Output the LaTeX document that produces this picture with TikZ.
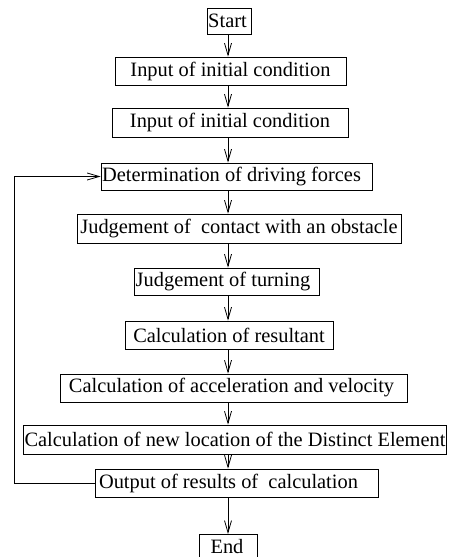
\documentclass[tikz,border=0pt]{standalone}
\usepackage{fontspec}
\setmainfont{Liberation Serif}
\usetikzlibrary{arrows.meta}
\begin{document}
\begin{tikzpicture}[x=1pt,y=-1pt,
  box/.style={draw,line width=0.8pt,inner sep=1pt,font=\fontsize{20.4}{24}\selectfont},
  flow/.style={line width=0.8pt,-{Straight Barb[length=12pt,width=7pt,line width=0.8pt]}}]
\useasboundingbox (0,0) rectangle (452,557);
\node[box,minimum width=43pt,minimum height=26pt] (start) at (229.5,21) {Start\hspace*{4pt}};
\node[box,minimum width=231pt,minimum height=28pt] (b2) at (230.5,71) {Input of initial condition};
\node[box,minimum width=236pt,minimum height=29pt] (b3) at (230,122.5) {Input of initial condition};
\node[box,minimum width=271pt,minimum height=27pt] (b4) at (236.5,176.5) {Determination of driving forces\hspace*{10pt}};
\node[box,minimum width=324pt,minimum height=29pt] (b5) at (239,228.5) {Judgement of\ \ contact with an obstacle};
\node[box,minimum width=184pt,minimum height=27pt] (b6) at (227,281.5) {Judgement of turning\hspace*{8pt}};
\node[box,minimum width=208pt,minimum height=28pt] (b7) at (229,335) {Calculation of resultant};
\node[box,minimum width=347pt,minimum height=28pt] (b8) at (233.5,388) {Calculation of acceleration and velocity\hspace*{4pt}};
\node[box,minimum width=422pt,minimum height=29pt] (b9) at (235,439.5) {Calculation of new location of the Distinct Element};
\node[box,minimum width=283pt,minimum height=28pt] (b10) at (236.5,483) {Output of results of\ \ calculation\hspace*{16pt}};
\node[box,minimum width=58pt,minimum height=24pt,anchor=north] (end) at (228,534) {End\hspace*{2pt}};
\coordinate (ax) at (228,0);
\foreach \a/\b in {start/b2,b2/b3,b3/b4,b4/b5,b5/b6,b6/b7,b7/b8,b8/b9,b9/b10,b10/end}
  \draw[flow] (ax |- \a.south) -- (ax |- \b.north);
\draw[flow] (b10.west) -- ++(-80,0) |- (b4.west);
\end{tikzpicture}
\end{document}
